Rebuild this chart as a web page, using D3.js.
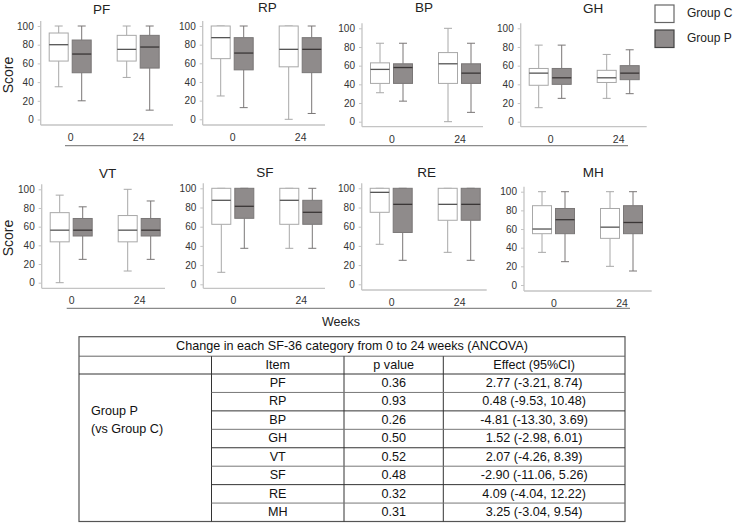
<!DOCTYPE html>
<html><head><meta charset="utf-8">
<script src="https://cdn.jsdelivr.net/npm/d3@7/dist/d3.min.js"></script>
<style>
body{margin:0;background:#fff;}
svg{font-family:Arial,"Liberation Sans",sans-serif;}
</style></head>
<body><svg id="c" width="735" height="523"></svg>
<script>
// ---------- DATA ----------
const categories = ["PF","RP","BP","GH","VT","SF","RE","MH"];
const weeks = [0, 24];
const groups = ["Group C","Group P"];
const yTicks = [0,20,40,60,80,100];
// five-number summaries [min, Q1, median, Q3, max]; order: C wk0, P wk0, C wk24, P wk24
const PF = [[35,62.5,80,92.5,100],[20,50,70,85,100],[45,62.5,75,90,100],[10,55,77.5,90,100]];
const RP = [[25,65,87.5,100,100],[12.5,53,71,87.5,100],[0,56.25,75,100,100],[6.25,50,75,87.5,100]];
const BP = [[31,41,56,63,84],[22,41,58,62,84],[0,41,62,74,100],[10,41,52,62,84]];
const GH = [[15,39,52,57,82],[25,40,47,57,82],[25,42,47,55,72],[30,45,52,60,77]];
const VT = [[0,43.75,56.25,75,93.75],[25,50,56.25,68.75,81.25],[12.5,43.75,56.25,71.9,100],[25,50,56.25,68.75,87.5]];
const SF = [[12.5,62.5,87.5,100,100],[37.5,68.75,81.25,100,100],[37.5,62.5,87.5,100,100],[37.5,62.5,75,87.5,100]];
const RE = [[41.67,75,95.8,100,100],[25,54,83.3,100,100],[33.3,66.7,83.3,100,100],[25,66.7,83.3,100,100]];
const MH = [[35,55,60,85,100],[25,55,70,82,100],[20,50,62,82,100],[15,55,67,85,100]];
const stats = {PF,RP,BP,GH,VT,SF,RE,MH};

const tableTitle = "Change in each SF-36 category from 0 to 24 weeks (ANCOVA)";
const tableHeaders = ["", "Item", "p value", "Effect (95%CI)"];
const groupLabel = ["Group P", "(vs Group C)"];
const pValues = ["0.36","0.93","0.26","0.50","0.52","0.48","0.32","0.31"];
const effects = ["2.77 (-3.21, 8.74)","0.48 (-9.53, 10.48)","-4.81 (-13.30, 3.69)","1.52 (-2.98, 6.01)",
                 "2.07 (-4.26, 8.39)","-2.90 (-11.06, 5.26)","4.09 (-4.04, 12.22)","3.25 (-3.04, 9.54)"];

// ---------- LAYOUT ----------
const layout = {
  PF:{ax:40.7, y100:26,   y0:119.5, xy:125,   xe:173,   ty:10,  tx:101.7},
  RP:{ax:202.7,y100:26,   y0:119.3, xy:125,   xe:325,   ty:8,   tx:267.3},
  BP:{ax:362,  y100:28.3, y0:121.7, xy:126.7, xe:483,   ty:8,   tx:424},
  GH:{ax:520.7,y100:28.3, y0:121.7, xy:126.7, xe:646.7, ty:9,   tx:593},
  VT:{ax:41.7, y100:189.3,y0:282.7, xy:288.3, xe:165,   ty:174, tx:107.7},
  SF:{ax:203.3,y100:188.3,y0:284.3, xy:288.3, xe:325,   ty:173, tx:265},
  RE:{ax:361.7,y100:188.3,y0:284.3, xy:290,   xe:486.7, ty:173, tx:426.7},
  MH:{ax:524,  y100:191.7,y0:285,   xy:291,   xe:651.7, ty:173, tx:593.3}
};
const boxW = 19, capW = 8;
const fillC = "#ffffff", fillP = "#8f8b8b";
const strokeC = "#a8a8a8", strokeP = "#7a7777";
const axisCol = "#c4c4c4";

const svg = d3.select("#c");

categories.forEach(cat => {
  const L = layout[cat];
  const g = svg.append("g");
  const y = d3.scaleLinear().domain([0,100]).range([L.y0, L.y100]);
  const x = d3.scaleLinear().domain([0,24]).range([L.ax+29.5, L.ax+97.5]);
  const off = d3.scalePoint().domain(groups).range([-11.5, 11.5]);

  g.append("text").attr("x", L.tx).attr("y", L.ty).attr("text-anchor","middle")
   .attr("dominant-baseline","middle").attr("font-size",13.5).attr("fill","#222").text(cat);

  const ya = g.append("g").attr("transform",`translate(${L.ax},0)`)
    .call(d3.axisLeft(y).tickValues(yTicks).tickSize(3).tickPadding(4));
  ya.select(".domain").remove();
  ya.selectAll(".tick line").attr("stroke",axisCol);
  ya.selectAll(".tick text").attr("font-size",10).attr("fill","#333").attr("font-family","Arial,'Liberation Sans',sans-serif");
  g.append("line").attr("x1",L.ax).attr("x2",L.ax).attr("y1",L.y100-5).attr("y2",L.xy)
   .attr("stroke",axisCol).attr("stroke-width",1.3);

  const xa = g.append("g").attr("transform",`translate(0,${L.xy})`)
    .call(d3.axisBottom(x).tickValues(weeks).tickSize(0).tickPadding(8.5));
  xa.select(".domain").remove();
  xa.selectAll(".tick text").attr("font-size",10.5).attr("fill","#333").attr("font-family","Arial,'Liberation Sans',sans-serif");
  g.append("line").attr("x1",L.ax).attr("x2",L.xe).attr("y1",L.xy).attr("y2",L.xy)
   .attr("stroke",axisCol).attr("stroke-width",1.3);

  const data = stats[cat];
  data.forEach((s, i) => {
    const wk = weeks[Math.floor(i/2)];
    const grp = groups[i%2];
    const cx = x(wk) + off(grp);
    const isP = grp === "Group P";
    const stroke = isP ? strokeP : strokeC;
    const [mn,q1,md,q3,mx] = s;
    const bg = g.append("g");
    bg.append("line").attr("x1",cx).attr("x2",cx).attr("y1",y(q3)).attr("y2",y(mx)).attr("stroke",stroke);
    bg.append("line").attr("x1",cx).attr("x2",cx).attr("y1",y(q1)).attr("y2",y(mn)).attr("stroke",stroke);
    bg.append("line").attr("x1",cx-capW/2).attr("x2",cx+capW/2).attr("y1",y(mx)).attr("y2",y(mx)).attr("stroke",stroke);
    bg.append("line").attr("x1",cx-capW/2).attr("x2",cx+capW/2).attr("y1",y(mn)).attr("y2",y(mn)).attr("stroke",stroke);
    bg.append("rect").attr("x",cx-boxW/2).attr("width",boxW)
      .attr("y",y(q3)).attr("height",Math.max(0.5,y(q1)-y(q3)))
      .attr("fill",isP?fillP:fillC).attr("stroke",stroke).attr("stroke-width",1);
    bg.append("line").attr("x1",cx-boxW/2).attr("x2",cx+boxW/2).attr("y1",y(md)).attr("y2",y(md))
      .attr("stroke", isP ? "#3a3636" : "#555").attr("stroke-width",1.3);
  });
});

// Score labels
[[9,75],[9,238]].forEach(p => {
  svg.append("text").attr("transform",`translate(${p[0]},${p[1]}) rotate(-90)`)
    .attr("text-anchor","middle").attr("dominant-baseline","middle")
    .attr("font-size",14).attr("fill","#222").text("Score");
});

svg.append("line").attr("x1",65).attr("x2",628).attr("y1",145.7).attr("y2",145.7).attr("stroke","#8a8a8a").attr("stroke-width",1.2);
svg.append("line").attr("x1",66.7).attr("x2",630).attr("y1",308.3).attr("y2",308.3).attr("stroke","#8a8a8a").attr("stroke-width",1.2);
svg.append("text").attr("x",341).attr("y",323).attr("text-anchor","middle").attr("dominant-baseline","middle")
  .attr("font-size",12.5).attr("fill","#222").text("Weeks");

groups.forEach((gname,i) => {
  const yy = 5 + i*25;
  svg.append("rect").attr("x",655).attr("y",yy).attr("width",19).attr("height",17.5)
    .attr("fill", i ? fillP : fillC).attr("stroke", i ? "#444" : "#666").attr("stroke-width",1.2);
  svg.append("text").attr("x",687).attr("y",yy+9).attr("dominant-baseline","middle")
    .attr("font-size",12).attr("fill","#222").text(gname);
});

// ---------- TABLE ----------
const colX = [79, 211.5, 344, 443.3, 625];
const rowTop = [336.7, 356.2, 374];
const rowH = (521.5 - 374) / pValues.length;
const rowY = d3.range(pValues.length+1).map(i => 374 + i*rowH);
const T = svg.append("g").attr("font-size",12.6).attr("fill","#111");
const lineCol = "#333";
T.append("rect").attr("x",colX[0]).attr("y",rowTop[0]).attr("width",colX[4]-colX[0]).attr("height",521.5-rowTop[0])
  .attr("fill","none").attr("stroke","#555").attr("stroke-width",1.2);
T.append("line").attr("x1",colX[0]).attr("x2",colX[4]).attr("y1",rowTop[1]).attr("y2",rowTop[1]).attr("stroke","#666");
T.append("line").attr("x1",colX[0]).attr("x2",colX[4]).attr("y1",rowTop[2]).attr("y2",rowTop[2]).attr("stroke",lineCol);
[1,2,3].forEach(c => T.append("line").attr("x1",colX[c]).attr("x2",colX[c]).attr("y1",rowTop[1]).attr("y2",521.5).attr("stroke",lineCol));
rowY.slice(1,-1).forEach((yy,i) => T.append("line").attr("x1",colX[1]).attr("x2",colX[4]).attr("y1",yy).attr("y2",yy)
  .attr("stroke", i%2 ? lineCol : "#777"));
T.append("text").attr("x",(colX[0]+colX[4])/2).attr("y",(rowTop[0]+rowTop[1])/2+0.5).attr("text-anchor","middle")
  .attr("dominant-baseline","middle").text(tableTitle);
tableHeaders.forEach((h,c) => {
  if (!h) return;
  T.append("text").attr("x",(colX[c]+colX[c+1])/2).attr("y",(rowTop[1]+rowTop[2])/2+0.5).attr("text-anchor","middle")
    .attr("dominant-baseline","middle").text(h);
});
pValues.forEach((p,i) => {
  const cy = rowY[i] + rowH/2 + 0.5;
  [categories[i], p, effects[i]].forEach((v,c) => {
    T.append("text").attr("x",(colX[c+1]+colX[c+2])/2).attr("y",cy).attr("text-anchor","middle")
      .attr("dominant-baseline","middle").text(v);
  });
});
groupLabel.forEach((t,i) => {
  T.append("text").attr("x",91).attr("y",411.7 + i*18.3).attr("dominant-baseline","middle").text(t);
});
</script></body></html>
